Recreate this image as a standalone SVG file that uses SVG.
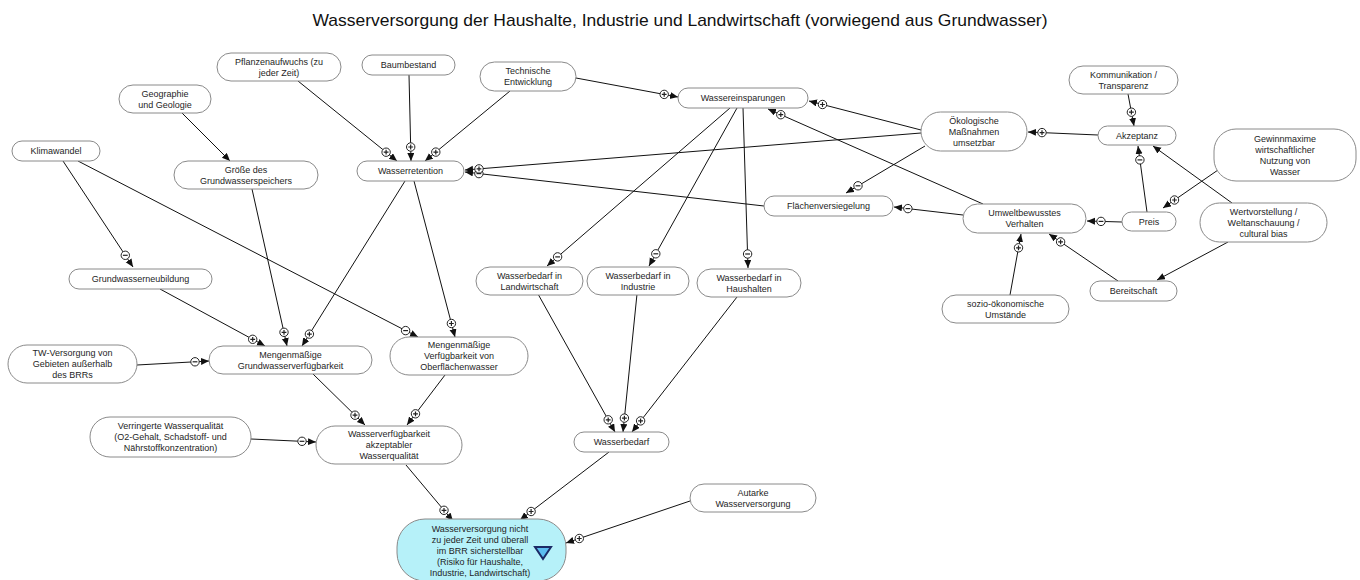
<svg xmlns="http://www.w3.org/2000/svg" xmlns:xlink="http://www.w3.org/1999/xlink" width="1360" height="580" viewBox="0 0 1360 580">
  <style>
    .title { font-family: "Liberation Sans", Arial, sans-serif; font-size: 17px; fill: #111; }
    .node rect { fill: #ffffff; stroke: #8a8a8a; stroke-width: 1; }
    .node text { font-family: "Liberation Sans", Arial, sans-serif; font-size: 9px; fill: #1e1e1e; text-anchor: middle; }
    #n30 rect { fill: #b6f1f9; stroke: #8a8a8a; }
    .edge { stroke: #111; stroke-width: 1; fill: none; marker-end: url(#arr); }
    .sign circle { fill: #ffffff; stroke: #222; stroke-width: 1; }
    .sign path { stroke: #222; stroke-width: 1.2; fill: none; }
  </style>
  <defs>
    <marker id="arr" markerWidth="9" markerHeight="8" refX="8" refY="3.5" orient="auto" markerUnits="userSpaceOnUse">
      <path d="M0,0 L8,3.5 L0,7 z" fill="#111"/>
    </marker>
    <g id="plus" class="sign"><circle r="4.2"/><path d="M-2.4,0H2.4M0,-2.4V2.4"/></g>
    <g id="minus" class="sign"><circle r="4.2"/><path d="M-2.4,0H2.4"/></g>
  </defs>

  <rect width="1360" height="580" fill="#ffffff"/>
  <text class="title" x="680" y="26" text-anchor="middle" textLength="735" lengthAdjust="spacingAndGlyphs">Wasserversorgung der Haushalte, Industrie und Landwirtschaft (vorwiegend aus Grundwasser)</text>

  <!-- connectors: line to the arrow tip, polarity badge just behind the head -->
  <g id="connectors">
    <line class="edge" x1="298" y1="81" x2="397" y2="161"/>
    <line class="edge" x1="409" y1="75" x2="411" y2="161"/>
    <line class="edge" x1="510" y1="91" x2="425" y2="161"/>
    <line class="edge" x1="576" y1="78" x2="678" y2="97"/>
    <line class="edge" x1="921" y1="130" x2="809" y2="101"/>
    <line class="edge" x1="983" y1="204" x2="768" y2="109"/>
    <line class="edge" x1="921" y1="133" x2="465" y2="170"/>
    <line class="edge" x1="764" y1="206" x2="465" y2="172"/>
    <line class="edge" x1="925" y1="146" x2="846" y2="193"/>
    <line class="edge" x1="1098" y1="135" x2="1028" y2="132"/>
    <line class="edge" x1="1128" y1="94" x2="1134" y2="126"/>
    <line class="edge" x1="1147" y1="212" x2="1138" y2="146"/>
    <line class="edge" x1="1232" y1="203" x2="1153" y2="146"/>
    <line class="edge" x1="1218" y1="170" x2="1163" y2="208"/>
    <line class="edge" x1="1122" y1="222" x2="1087" y2="221"/>
    <line class="edge" x1="963" y1="215" x2="894" y2="207"/>
    <line class="edge" x1="1010" y1="295" x2="1021" y2="234"/>
    <line class="edge" x1="1118" y1="281" x2="1049" y2="234"/>
    <line class="edge" x1="1228" y1="242" x2="1157" y2="280"/>
    <line class="edge" x1="730" y1="108" x2="547" y2="266"/>
    <line class="edge" x1="737" y1="108" x2="649" y2="266"/>
    <line class="edge" x1="743" y1="108" x2="748" y2="268"/>
    <line class="edge" x1="538" y1="294" x2="615" y2="432"/>
    <line class="edge" x1="637" y1="294" x2="623" y2="432"/>
    <line class="edge" x1="737" y1="297" x2="632" y2="432"/>
    <line class="edge" x1="609" y1="452" x2="520" y2="520"/>
    <line class="edge" x1="690" y1="501" x2="566" y2="543"/>
    <line class="edge" x1="406" y1="465" x2="453" y2="521"/>
    <line class="edge" x1="251" y1="439" x2="316" y2="442"/>
    <line class="edge" x1="313" y1="374" x2="365" y2="425"/>
    <line class="edge" x1="445" y1="375" x2="407" y2="425"/>
    <line class="edge" x1="137" y1="365" x2="209" y2="361"/>
    <line class="edge" x1="160" y1="289" x2="265" y2="346"/>
    <line class="edge" x1="252" y1="189" x2="287" y2="346"/>
    <line class="edge" x1="405" y1="181" x2="302" y2="346"/>
    <line class="edge" x1="414" y1="181" x2="455" y2="337"/>
    <line class="edge" x1="63" y1="161" x2="133" y2="267"/>
    <line class="edge" x1="78" y1="161" x2="418" y2="337"/>
    <line class="edge" x1="182" y1="113" x2="230" y2="161"/>

    <use href="#plus" x="386.1" y="152.2"/>
    <use href="#plus" x="410.7" y="147"/>
    <use href="#plus" x="435.8" y="152.1"/>
    <use href="#plus" x="664.2" y="94.4"/>
    <use href="#plus" x="822.5" y="104.5"/>
    <use href="#plus" x="780.8" y="114.7"/>
    <use href="#minus" x="478.9" y="173.6"/>
    <use href="#plus" x="479" y="168.9"/>
    <use href="#minus" x="858" y="185.8"/>
    <use href="#plus" x="1042" y="132.6"/>
    <use href="#plus" x="1131.4" y="112.2"/>
    <use href="#minus" x="1139.9" y="159.9"/>
    <use href="#plus" x="1174.5" y="200"/>
    <use href="#minus" x="1101" y="221.4"/>
    <use href="#minus" x="907.9" y="208.6"/>
    <use href="#plus" x="1018.5" y="247.8"/>
    <use href="#plus" x="1060.6" y="241.9"/>
    <use href="#minus" x="557.6" y="256.9"/>
    <use href="#minus" x="655.8" y="253.8"/>
    <use href="#minus" x="747.6" y="254"/>
    <use href="#plus" x="608.2" y="419.8"/>
    <use href="#plus" x="624.4" y="418.1"/>
    <use href="#plus" x="640.6" y="420.9"/>
    <use href="#plus" x="531.1" y="511.5"/>
    <use href="#plus" x="579.3" y="538.5"/>
    <use href="#plus" x="444" y="510.3"/>
    <use href="#minus" x="302" y="441.3"/>
    <use href="#plus" x="355" y="415.2"/>
    <use href="#plus" x="415.5" y="413.8"/>
    <use href="#minus" x="195" y="361.8"/>
    <use href="#plus" x="252.7" y="339.3"/>
    <use href="#plus" x="284" y="332.3"/>
    <use href="#plus" x="309.4" y="334.1"/>
    <use href="#plus" x="451.4" y="323.5"/>
    <use href="#minus" x="125.3" y="255.3"/>
    <use href="#minus" x="405.6" y="330.6"/>
  </g>

  <!-- factor nodes -->
  <g id="n1" class="node"><rect x="217" y="53" width="124" height="28" rx="14"/><text x="279"><tspan x="279" y="64.8">Pflanzenaufwuchs (zu</tspan><tspan x="279" y="75.8">jeder Zeit)</tspan></text></g>
  <g id="n2" class="node"><rect x="362" y="55" width="93" height="20" rx="10"/><text x="408.5" y="68.3">Baumbestand</text></g>
  <g id="n3" class="node"><rect x="119" y="85" width="92" height="28" rx="14"/><text x="165"><tspan x="165" y="96.8">Geographie</tspan><tspan x="165" y="107.8">und Geologie</tspan></text></g>
  <g id="n4" class="node"><rect x="12" y="141" width="88" height="20" rx="10"/><text x="56" y="154.3">Klimawandel</text></g>
  <g id="n5" class="node"><rect x="174" y="161" width="144" height="28" rx="14"/><text x="246"><tspan x="246" y="172.8">Größe des</tspan><tspan x="246" y="183.8">Grundwasserspeichers</tspan></text></g>
  <g id="n6" class="node"><rect x="357" y="161" width="107" height="20" rx="10"/><text x="410.5" y="174.3">Wasserretention</text></g>
  <g id="n7" class="node"><rect x="480" y="62" width="96" height="29" rx="14.5"/><text x="528"><tspan x="528" y="74.3">Technische</tspan><tspan x="528" y="85.3">Entwicklung</tspan></text></g>
  <g id="n8" class="node"><rect x="678" y="88" width="130" height="20" rx="10"/><text x="743" y="101.3">Wassereinsparungen</text></g>
  <g id="n9" class="node"><rect x="1069" y="66" width="109" height="28" rx="14"/><text x="1123.5"><tspan x="1123.5" y="77.8">Kommunikation /</tspan><tspan x="1123.5" y="88.8">Transparenz</tspan></text></g>
  <g id="n10" class="node"><rect x="921" y="112" width="106" height="39" rx="19.5"/><text x="974"><tspan x="974" y="123.8">Ökologische</tspan><tspan x="974" y="134.8">Maßnahmen</tspan><tspan x="974" y="145.8">umsetzbar</tspan></text></g>
  <g id="n11" class="node"><rect x="1098" y="126" width="78" height="19" rx="9.5"/><text x="1137" y="138.8">Akzeptanz</text></g>
  <g id="n12" class="node"><rect x="1214" y="129" width="142" height="52" rx="22"/><text x="1285"><tspan x="1285" y="141.8">Gewinnmaxime</tspan><tspan x="1285" y="152.8">wirtschaftlicher</tspan><tspan x="1285" y="163.8">Nutzung von</tspan><tspan x="1285" y="174.8">Wasser</tspan></text></g>
  <g id="n13" class="node"><rect x="963" y="204" width="123" height="29" rx="14.5"/><text x="1024.5"><tspan x="1024.5" y="216.3">Umweltbewusstes</tspan><tspan x="1024.5" y="227.3">Verhalten</tspan></text></g>
  <g id="n14" class="node"><rect x="1122" y="212" width="54" height="19" rx="9.5"/><text x="1149" y="224.8">Preis</text></g>
  <g id="n15" class="node"><rect x="1200" y="203" width="127" height="39" rx="19.5"/><text x="1263.5"><tspan x="1263.5" y="214.8">Wertvorstellung /</tspan><tspan x="1263.5" y="225.8">Weltanschauung /</tspan><tspan x="1263.5" y="236.8">cultural bias</tspan></text></g>
  <g id="n16" class="node"><rect x="764" y="196" width="129" height="20" rx="10"/><text x="828.5" y="209.3">Flächenversiegelung</text></g>
  <g id="n17" class="node"><rect x="1090" y="281" width="87" height="20" rx="10"/><text x="1133.5" y="294.3">Bereitschaft</text></g>
  <g id="n18" class="node"><rect x="942" y="295" width="127" height="28" rx="14"/><text x="1005.5"><tspan x="1005.5" y="306.8">sozio-ökonomische</tspan><tspan x="1005.5" y="317.8">Umstände</tspan></text></g>
  <g id="n19" class="node"><rect x="69" y="269" width="143" height="20" rx="10"/><text x="140.5" y="282.3">Grundwasserneubildung</text></g>
  <g id="n20" class="node"><rect x="8" y="345" width="129" height="38" rx="19"/><text x="72.5"><tspan x="72.5" y="356.3">TW-Versorgung von</tspan><tspan x="72.5" y="367.3">Gebieten außerhalb</tspan><tspan x="72.5" y="378.3">des BRRs</tspan></text></g>
  <g id="n21" class="node"><rect x="209" y="346" width="163" height="28" rx="14"/><text x="290.5"><tspan x="290.5" y="357.8">Mengenmäßige</tspan><tspan x="290.5" y="368.8">Grundwasserverfügbarkeit</tspan></text></g>
  <g id="n22" class="node"><rect x="390" y="337" width="138" height="38" rx="19"/><text x="459"><tspan x="459" y="348.3">Mengenmäßige</tspan><tspan x="459" y="359.3">Verfügbarkeit von</tspan><tspan x="459" y="370.3">Oberflächenwasser</tspan></text></g>
  <g id="n23" class="node"><rect x="476" y="267" width="107" height="28" rx="14"/><text x="529.5"><tspan x="529.5" y="278.8">Wasserbedarf in</tspan><tspan x="529.5" y="289.8">Landwirtschaft</tspan></text></g>
  <g id="n24" class="node"><rect x="587" y="267" width="102" height="28" rx="14"/><text x="638"><tspan x="638" y="278.8">Wasserbedarf in</tspan><tspan x="638" y="289.8">Industrie</tspan></text></g>
  <g id="n25" class="node"><rect x="697" y="269" width="104" height="28" rx="14"/><text x="749"><tspan x="749" y="280.8">Wasserbedarf in</tspan><tspan x="749" y="291.8">Haushalten</tspan></text></g>
  <g id="n26" class="node"><rect x="90" y="417" width="161" height="40" rx="20"/><text x="170.5"><tspan x="170.5" y="429.3">Verringerte Wasserqualität</tspan><tspan x="170.5" y="440.3">(O2-Gehalt, Schadstoff- und</tspan><tspan x="170.5" y="451.3">Nährstoffkonzentration)</tspan></text></g>
  <g id="n27" class="node"><rect x="316" y="426" width="146" height="38" rx="19"/><text x="389"><tspan x="389" y="437.3">Wasserverfügbarkeit</tspan><tspan x="389" y="448.3">akzeptabler</tspan><tspan x="389" y="459.3">Wasserqualität</tspan></text></g>
  <g id="n28" class="node"><rect x="574" y="432" width="95" height="20" rx="10"/><text x="621.5" y="445.3">Wasserbedarf</text></g>
  <g id="n29" class="node"><rect x="690" y="484" width="126" height="28" rx="14"/><text x="753"><tspan x="753" y="495.8">Autarke</tspan><tspan x="753" y="506.8">Wasserversorgung</tspan></text></g>

  <!-- risk (target) node -->
  <g id="n30" class="node">
    <rect x="397" y="519" width="169" height="62" rx="28"/>
    <text x="480"><tspan x="480" y="532.3">Wasserversorgung nicht</tspan><tspan x="480" y="543.3">zu jeder Zeit und überall</tspan><tspan x="480" y="554.3">im BRR sicherstellbar</tspan><tspan x="480" y="565.3">(Risiko für Haushalte,</tspan><tspan x="480" y="576.3">Industrie, Landwirtschaft)</tspan></text>
    <polygon points="535,547 551,547 543,559" fill="#5cbdf0" stroke="#1b2a66" stroke-width="2" stroke-linejoin="miter"/>
  </g>
</svg>
